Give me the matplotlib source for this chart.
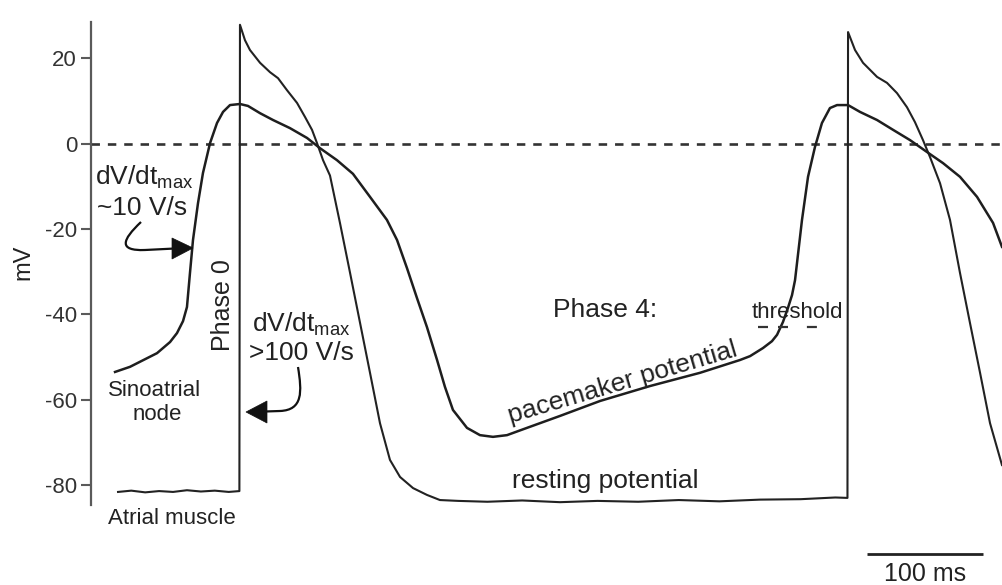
import matplotlib
matplotlib.use("Agg")
import matplotlib.pyplot as plt
from matplotlib.patches import PathPatch, Polygon
from matplotlib.path import Path

plt.rcParams['font.family'] = ['Liberation Sans', 'DejaVu Sans']
plt.rcParams['mathtext.fontset'] = 'custom'
plt.rcParams['mathtext.rm'] = 'Liberation Sans'
plt.rcParams['mathtext.default'] = 'regular'
plt.rcParams['axes.unicode_minus'] = False

# ---------------- data (time in ms, membrane potential in mV) ----------------
# Atrial muscle action potentials
am_t = [-103.4, -92, -80, -68, -56, -44, -32, -20, -8, 1.2,
        1.7, 6.0, 10.3, 19.0, 27.6, 34.5, 42.2, 50.9, 57.8, 63.8,
        68.1, 73.3, 79.3, 87.9, 96.6, 105.2, 113.8, 122.4, 131.0, 139.7,
        150.9, 162.9, 174.1, 190, 215, 245, 277.6, 310, 345, 380,
        415, 450, 485, 515, 525.4,
        525.9, 531.9, 538.8, 550.9, 559.5, 568.1, 576.7, 583.6, 590.5, 596.6,
        605.2, 613.8, 622.4, 631.0, 639.7, 648.3, 658.6]
am_v = [-81.6, -81.3, -81.7, -81.4, -81.6, -81.2, -81.5, -81.3, -81.6, -81.4,
        27.8, 24.2, 21.9, 18.9, 16.7, 15.3, 12.5, 9.5, 6.2, 3.2,
        0.1, -3.9, -7.5, -18.6, -30.3, -42.0, -53.7, -65.5, -74.1, -78.1,
        -80.7, -82.3, -83.5, -83.7, -83.9, -83.6, -84.0, -83.7, -83.9, -83.5,
        -83.8, -83.4, -83.3, -82.9, -83.0,
        26.1, 21.9, 18.9, 15.6, 14.2, 11.8, 8.5, 5.0, 0.8, -3.2,
        -9.3, -17.9, -30.3, -42.0, -53.7, -65.5, -75.3]

# Sinoatrial node action potentials
san_t = [-106.0, -93.1, -69.8, -58.6, -52.6, -47.4, -44.0, -41.4, -38.8, -34.5,
         -30.2, -24.1, -18.1, -12.9, -6.9, 1.7, 8.6, 19.0, 30.2, 44.8,
         59.5, 70.7, 85.3, 99.1, 113.8, 128.4, 137.1, 145.7, 154.3, 162.9,
         171.6, 178.4, 185.3, 197.4, 208.6, 219.8, 231.9, 249.1, 260.3, 277.6,
         312.1, 355.2, 398.3, 432.8, 441.4, 452.6, 460.3, 464.7, 469.8, 474.1,
         477.6, 480.2, 486.2, 491.4, 497.4, 503.4, 510.3, 516.4, 525.9, 536.2,
         550.9, 564.7, 579.3, 594.0, 607.8, 622.4, 637.1, 650.9, 658.6]
san_v = [-53.5, -52.3, -49.1, -46.5, -44.4, -41.6, -38.3, -30.3, -22.6, -14.0,
         -6.9, 0.1, 4.8, 7.4, 9.0, 9.25, 8.8, 7.1, 5.5, 3.6,
         1.3, -1.1, -3.9, -7.1, -12.5, -17.9, -22.6, -29.2, -36.2, -43.0,
         -50.7, -57.0, -62.4, -66.6, -68.3, -68.7, -68.3, -66.6, -65.5, -63.8,
         -60.3, -56.8, -53.7, -50.7, -49.8, -47.9, -46.3, -44.8, -41.8, -38.5,
         -35.5, -32.0, -17.9, -7.8, -0.8, 4.8, 8.3, 9.0, 9.0, 7.4,
         5.5, 3.2, 0.8, -2.0, -4.6, -7.8, -12.5, -18.6, -24.2]

threshold_mv = -43.0
threshold_t = [448.3, 499.1]
y_ticks = [-80, -60, -40, -20, 0, 20]
scale_bar_ms = 100
scale_bar_start = 542.2
scale_bar_mv = -96.1

# ---------------- layout helpers (pixel -> figure fraction) ----------------
W, H = 1002, 585
def fx(p):
    return p / W
def fy(p):
    return 1 - p / H

fig = plt.figure(figsize=(W / 100, H / 100), dpi=100)
fig.patch.set_facecolor('white')

px_per_ms = 1.16
t0_px = 238
px_per_mv = 4.27
v0_px = 143.5
ax_left, ax_right, ax_top, ax_bottom = 91, 1002, 22, 505

ax = fig.add_axes([fx(ax_left), fy(ax_bottom), fx(ax_right) - fx(ax_left), fy(ax_top) - fy(ax_bottom)])
ax.set_xlim((ax_left - t0_px) / px_per_ms, (ax_right - t0_px) / px_per_ms)
ax.set_ylim((v0_px - ax_bottom) / px_per_mv, (v0_px - ax_top) / px_per_mv)
ax.patch.set_alpha(0)

for s in ['top', 'right', 'bottom']:
    ax.spines[s].set_visible(False)
ax.spines['left'].set_color('#5a5a5a')
ax.spines['left'].set_linewidth(1.6)
ax.set_xticks([])
ax.set_yticks(y_ticks)
ax.tick_params(axis='y', length=7, width=1.5, color='#5a5a5a', labelsize=16,
               labelcolor='#333333', pad=3)

ax.axhline(0, color='#333333', lw=1.9, ls=(0, (3.2, 3.0)))

ax.plot(am_t, am_v, color='#222222', lw=1.5, solid_joinstyle='round')
ax.plot(san_t, san_v, color='#1e1e1e', lw=1.8, solid_joinstyle='round')

ax.plot(threshold_t, [threshold_mv] * 2, color='#333333', lw=1.6,
        ls=(0, (4.5, 4.5, 4.5, 8.5)))

ax.plot([scale_bar_start, scale_bar_start + scale_bar_ms], [scale_bar_mv] * 2,
        color='#222222', lw=2.0, clip_on=False, solid_capstyle='butt')

txt = dict(color='#222222')
fig.text(fx(23), fy(262), 'mV', rotation=90, ha='center', va='center', fontsize=17, **txt)
fig.text(fx(95), fy(185), r'dV/dt$_{max}$', ha='left', va='baseline', fontsize=19, **txt)
fig.text(fx(97), fy(208), '~10 V/s', ha='left', va='center', fontsize=19, **txt)
fig.text(fx(223), fy(305), 'Phase 0', rotation=90, ha='center', va='center', fontsize=18, **txt)
fig.text(fx(252), fy(332), r'dV/dt$_{max}$', ha='left', va='baseline', fontsize=19, **txt)
fig.text(fx(249), fy(353), '>100 V/s', ha='left', va='center', fontsize=19, **txt)
fig.text(fx(155), fy(390), 'Sinoatrial', ha='center', va='center', fontsize=16, **txt)
fig.text(fx(157), fy(415), 'node', ha='center', va='center', fontsize=16, **txt)
fig.text(fx(172), fy(518), 'Atrial muscle', ha='center', va='center', fontsize=16, **txt)
fig.text(fx(605), fy(310), 'Phase 4:', ha='center', va='center', fontsize=19, **txt)
fig.text(fx(797), fy(313), 'threshold', ha='center', va='center', fontsize=16, **txt)
fig.text(fx(623), fy(383), 'pacemaker potential', rotation=16.5, rotation_mode='anchor',
         ha='center', va='center', fontsize=19, **txt)
fig.text(fx(605), fy(481), 'resting potential', ha='center', va='center', fontsize=19, **txt)
fig.text(fx(925), fy(574), '100 ms', ha='center', va='center', fontsize=18, **txt)

def hook_arrow(pts, head):
    verts = [(fx(x), fy(y)) for x, y in pts]
    codes = [Path.MOVETO, Path.CURVE4, Path.CURVE4, Path.CURVE4, Path.LINETO]
    fig.add_artist(PathPatch(Path(verts, codes), fill=False, lw=1.6,
                             edgecolor='#111111', transform=fig.transFigure))
    fig.add_artist(Polygon([(fx(x), fy(y)) for x, y in head], closed=True,
                           facecolor='#111111', edgecolor='#111111', lw=0.5,
                           transform=fig.transFigure))

hook_arrow([(141, 222), (122, 240), (118, 251), (145, 250), (175, 248.5)],
           [(172, 238), (193, 248), (172, 259)])
hook_arrow([(298, 367), (302, 392), (303, 410), (280, 411), (265, 411.5)],
           [(267, 401), (246, 412), (267, 423)])

fig.savefig('out.png', dpi=100, facecolor='white')
